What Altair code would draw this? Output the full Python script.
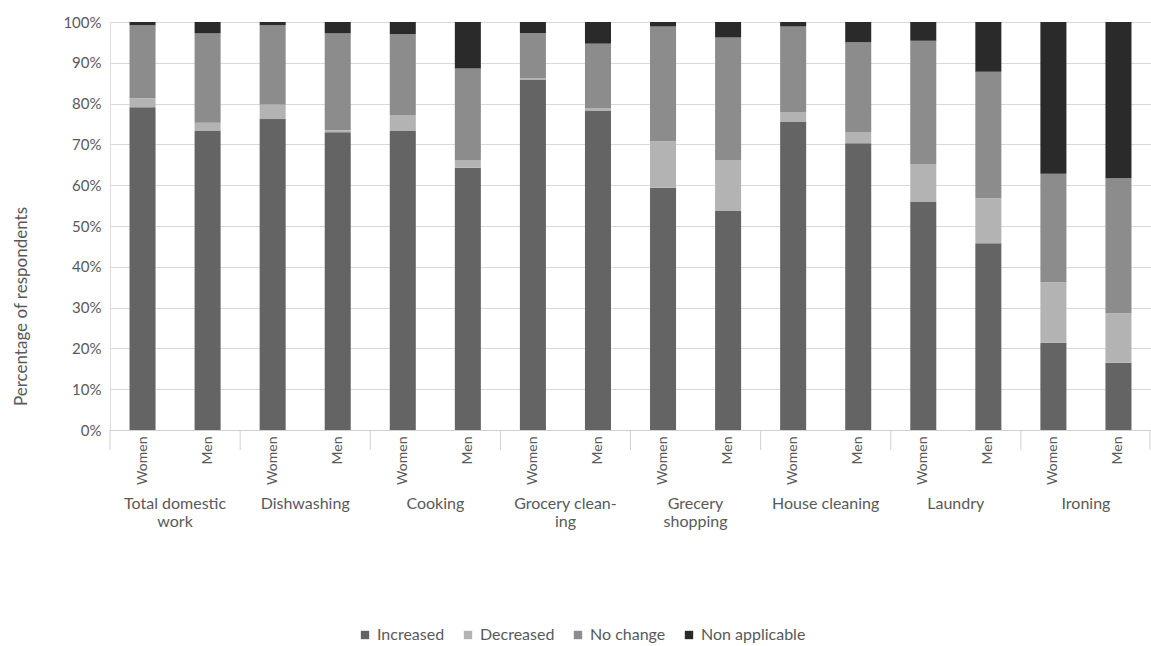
import altair as alt
import pandas as pd

# Survey categories and the two respondent groups
groups = ["Total domestic work", "Dishwashing", "Cooking", "Grocery cleaning",
          "Grecery shopping", "House cleaning", "Laundry", "Ironing"]
group_lines = [["Total domestic", "work"], ["Dishwashing"], ["Cooking"],
               ["Grocery clean-", "ing"], ["Grecery", "shopping"],
               ["House cleaning"], ["Laundry"], ["Ironing"]]
sexes = ["Women", "Men"]

# Share of respondents (%) per bar, ordered group by group, Women then Men
increased = [79.1, 73.4, 76.2, 73.0, 73.4, 64.3, 85.9, 78.3,
             59.4, 53.7, 75.6, 70.3, 56.0, 45.8, 21.4, 16.5]
decreased = [2.2, 1.9, 3.6, 0.5, 3.8, 1.9, 0.4, 0.5,
             11.4, 12.5, 2.3, 2.7, 9.1, 11.0, 14.8, 12.1]
no_change = [17.9, 21.9, 19.4, 23.7, 19.8, 22.4, 11.0, 15.9,
             28.1, 30.0, 21.0, 22.0, 30.3, 31.0, 26.6, 33.1]
non_applicable = [0.8, 2.8, 0.8, 2.8, 3.0, 11.4, 2.7, 5.3,
                  1.1, 3.8, 1.1, 5.0, 4.6, 12.2, 37.2, 38.3]

answers = ["Increased", "Decreased", "No change", "Non applicable"]
answer_colors = ["#646464", "#b3b3b3", "#8c8c8c", "#2a2a2a"]
series = [increased, decreased, no_change, non_applicable]

W, H = 1041, 408
STEP = W / 16
TEXT = "#595959"
FONT = "Lato"

keys = [f"{g}|{s}" for g in groups for s in sexes]

rows = []
for a_i, (answer, vals) in enumerate(zip(answers, series)):
    for k_i, key in enumerate(keys):
        rows.append({"key": key, "answer": answer, "order": a_i,
                     "share": vals[k_i] / 100})
bars_df = pd.DataFrame(rows)

labels_df = pd.DataFrame({"key": [f"{g}|Women" for g in groups],
                          "lines": group_lines})
edges_df = pd.DataFrame({"key": [f"{g}|Women" for g in groups]})
last_df = pd.DataFrame({"key": [keys[-1]]})

x_scale = alt.Scale(domain=keys, paddingInner=0.6, paddingOuter=0.3)

bars = alt.Chart(bars_df).mark_bar().encode(
    x=alt.X("key:N", scale=x_scale, title=None,
            axis=alt.Axis(labelExpr="split(datum.label, '|')[1]",
                          labelAngle=-90, labelFontSize=14, labelColor=TEXT,
                          labelFont=FONT, labelPadding=6, ticks=False,
                          domainColor="#d0d0d0", grid=False)),
    y=alt.Y("share:Q", stack="zero",
            scale=alt.Scale(domain=[0, 1], nice=False),
            axis=alt.Axis(format="%", values=[i / 10 for i in range(11)],
                          title="Percentage of respondents",
                          titleFont=FONT, titleFontSize=17, titleFontWeight="normal",
                          titleColor=TEXT, titleX=-89, titleY=284,
                          titleBaseline="middle",
                          labelFont=FONT, labelFontSize=15, labelColor=TEXT,
                          labelPadding=9, ticks=False, domain=False,
                          gridColor="#d9d9d9")),
    color=alt.Color("answer:N",
                    scale=alt.Scale(domain=answers, range=answer_colors),
                    legend=alt.Legend(title=None, orient="none",
                                      direction="horizontal",
                                      legendX=247, legendY=605,
                                      symbolType="square", symbolSize=70,
                                      symbolStrokeWidth=0,
                                      labelFont=FONT, labelFontSize=16,
                                      labelColor=TEXT, columnPadding=15,
                                      labelOffset=4)),
    order=alt.Order("order:Q", sort="ascending"),
)

group_text = alt.Chart(labels_df).mark_text(
    baseline="top", align="center", xOffset=STEP / 2, fontSize=16,
    font=FONT, color=TEXT, lineHeight=18,
).encode(
    x=alt.X("key:N", scale=x_scale),
    y=alt.value(H + 66),
    text="lines",
)

separators = alt.Chart(edges_df).mark_rule(
    color="#d0d0d0", xOffset=-STEP / 2,
).encode(
    x=alt.X("key:N", scale=x_scale),
    y=alt.value(H),
    y2=alt.value(H + 20),
)

last_edge = alt.Chart(last_df).mark_rule(
    color="#d0d0d0", xOffset=STEP / 2 - 1,
).encode(
    x=alt.X("key:N", scale=x_scale),
    y=alt.value(H),
    y2=alt.value(H + 20),
)

chart = alt.layer(bars, separators, last_edge, group_text).properties(
    width=W, height=H,
    autosize=alt.AutoSizeParams(type="none"),
    padding={"left": 110, "top": 22, "right": 0, "bottom": 216},
).configure_view(stroke=None).configure(background="white")

chart.save("out.html", embed_options={"renderer": "svg", "actions": False})
